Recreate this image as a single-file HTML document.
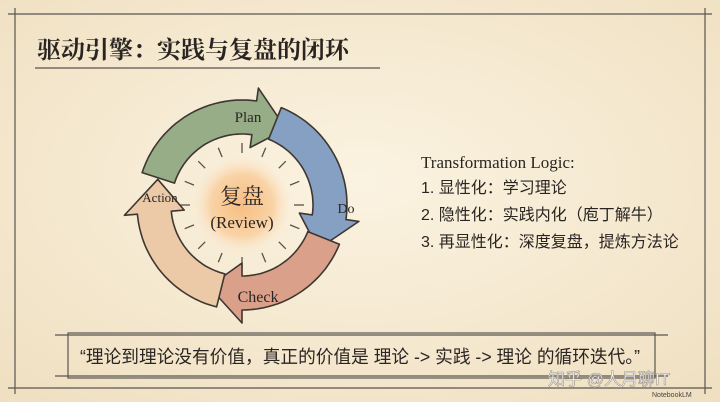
<!DOCTYPE html>
<html><head><meta charset="utf-8"><style>
html,body{margin:0;padding:0;width:720px;height:402px;overflow:hidden;background:#f6ecd6}
svg{display:block}
</style></head><body>
<svg id="s" width="720" height="402" viewBox="0 0 720 402" xmlns="http://www.w3.org/2000/svg">
<defs>
<radialGradient id="bg" cx="50%" cy="45%" r="75%"><stop offset="0" stop-color="#fbf3e1"/><stop offset="1" stop-color="#efdfc0"/></radialGradient>
<radialGradient id="glow" cx="50%" cy="50%" r="50%"><stop offset="0" stop-color="#f7bd82"/><stop offset="0.6" stop-color="#f9d3a6"/><stop offset="1" stop-color="#fbefdc" stop-opacity="0"/></radialGradient>
</defs>
<rect width="720" height="402" fill="url(#bg)"/>
<g stroke="#5a5550" stroke-width="1.2" fill="none">
<line x1="8" y1="14" x2="712" y2="14"/>
<line x1="15" y1="8" x2="15" y2="394"/>
<line x1="705" y1="8" x2="705" y2="394"/>
<line x1="8" y1="388" x2="712" y2="388"/>
<line x1="35" y1="68" x2="380" y2="68"/>
<rect x="68" y="333" width="587" height="45"/>
<line x1="55" y1="335" x2="668" y2="335"/>
<line x1="55" y1="376" x2="668" y2="376"/>
</g>
<text x="37" y="58" font-family="'Liberation Serif','Noto Serif CJK SC',serif" font-size="24" font-weight="bold" fill="#2a2522">驱动引擎：实践与复盘的闭环</text>
<circle cx="242" cy="205" r="52" fill="url(#glow)"/>
<g id="rays" stroke="#5a5045" stroke-width="1.3"></g>
<g id="arrows" stroke="#3e3630" stroke-width="1.6" stroke-linejoin="round"></g>
<g font-family="'Liberation Serif','Noto Serif CJK SC',serif" fill="#2a2522">
<text x="248" y="122" font-size="15" text-anchor="middle">Plan</text>
<text x="346" y="213" font-size="14" text-anchor="middle">Do</text>
<text x="258" y="302" font-size="16" text-anchor="middle">Check</text>
<text x="160" y="202" font-size="13" text-anchor="middle">Action</text>
<text x="242" y="204" font-size="22" text-anchor="middle">复盘</text>
<text x="242" y="228" font-size="17" text-anchor="middle">(Review)</text>
<text x="421" y="168" font-size="17">Transformation Logic:</text>
</g>
<g font-family="'Liberation Sans','Noto Sans CJK SC',sans-serif" font-size="16" fill="#2a2522">
<text x="421" y="193">1. 显性化：学习理论</text>
<text x="421" y="220">2. 隐性化：实践内化（庖丁解牛）</text>
<text x="421" y="247">3. 再显性化：深度复盘，提炼方法论</text>
<text x="80" y="363" font-size="18" textLength="560" lengthAdjust="spacingAndGlyphs">“理论到理论没有价值，真正的价值是 理论 -&gt; 实践 -&gt; 理论 的循环迭代。”</text>
<text x="548" y="385" font-size="17" fill="#ffffff" stroke="#9a948c" stroke-width="0.6">知乎 @人月聊IT</text>
<text x="652" y="397" font-size="7" fill="#444">NotebookLM</text>
</g>
<script>
(function(){
var cx=242,cy=205,R=88,w=17,hw=30,hl=22;
function pt(a,r){var t=a*Math.PI/180;return [(cx+r*Math.cos(t)).toFixed(1),(cy+r*Math.sin(t)).toFixed(1)];}
function arrow(a0,a1,col){
 var ab=a1-hl, p=[];
 for(var a=a0;a<=ab;a+=3)p.push(pt(a,R+w));
 p.push(pt(ab,R+w));p.push(pt(ab,R+hw));p.push(pt(a1,R));p.push(pt(ab,R-hw));p.push(pt(ab,R-w));
 for(var a=ab;a>=a0;a-=3)p.push(pt(a,R-w));
 p.push(pt(a0,R-w));
 var d='M'+p.map(function(q){return q.join(',')}).join(' L')+' Z';
 var e=document.createElementNS('http://www.w3.org/2000/svg','path');
 e.setAttribute('d',d);e.setAttribute('fill',col);
 document.getElementById('arrows').appendChild(e);
}
arrow(198,300,'#97ad88');
arrow(292,390,'#86a0c4');
arrow(22,112,'#dba08a');
arrow(104,197,'#eccaa8');
var g=document.getElementById('rays');
for(var i=0;i<16;i++){var a=i*22.5;var p1=pt(a,52),p2=pt(a,62);
 var l=document.createElementNS('http://www.w3.org/2000/svg','line');
 l.setAttribute('x1',p1[0]);l.setAttribute('y1',p1[1]);l.setAttribute('x2',p2[0]);l.setAttribute('y2',p2[1]);g.appendChild(l);}
})();
</script>
</svg>
</body></html>
